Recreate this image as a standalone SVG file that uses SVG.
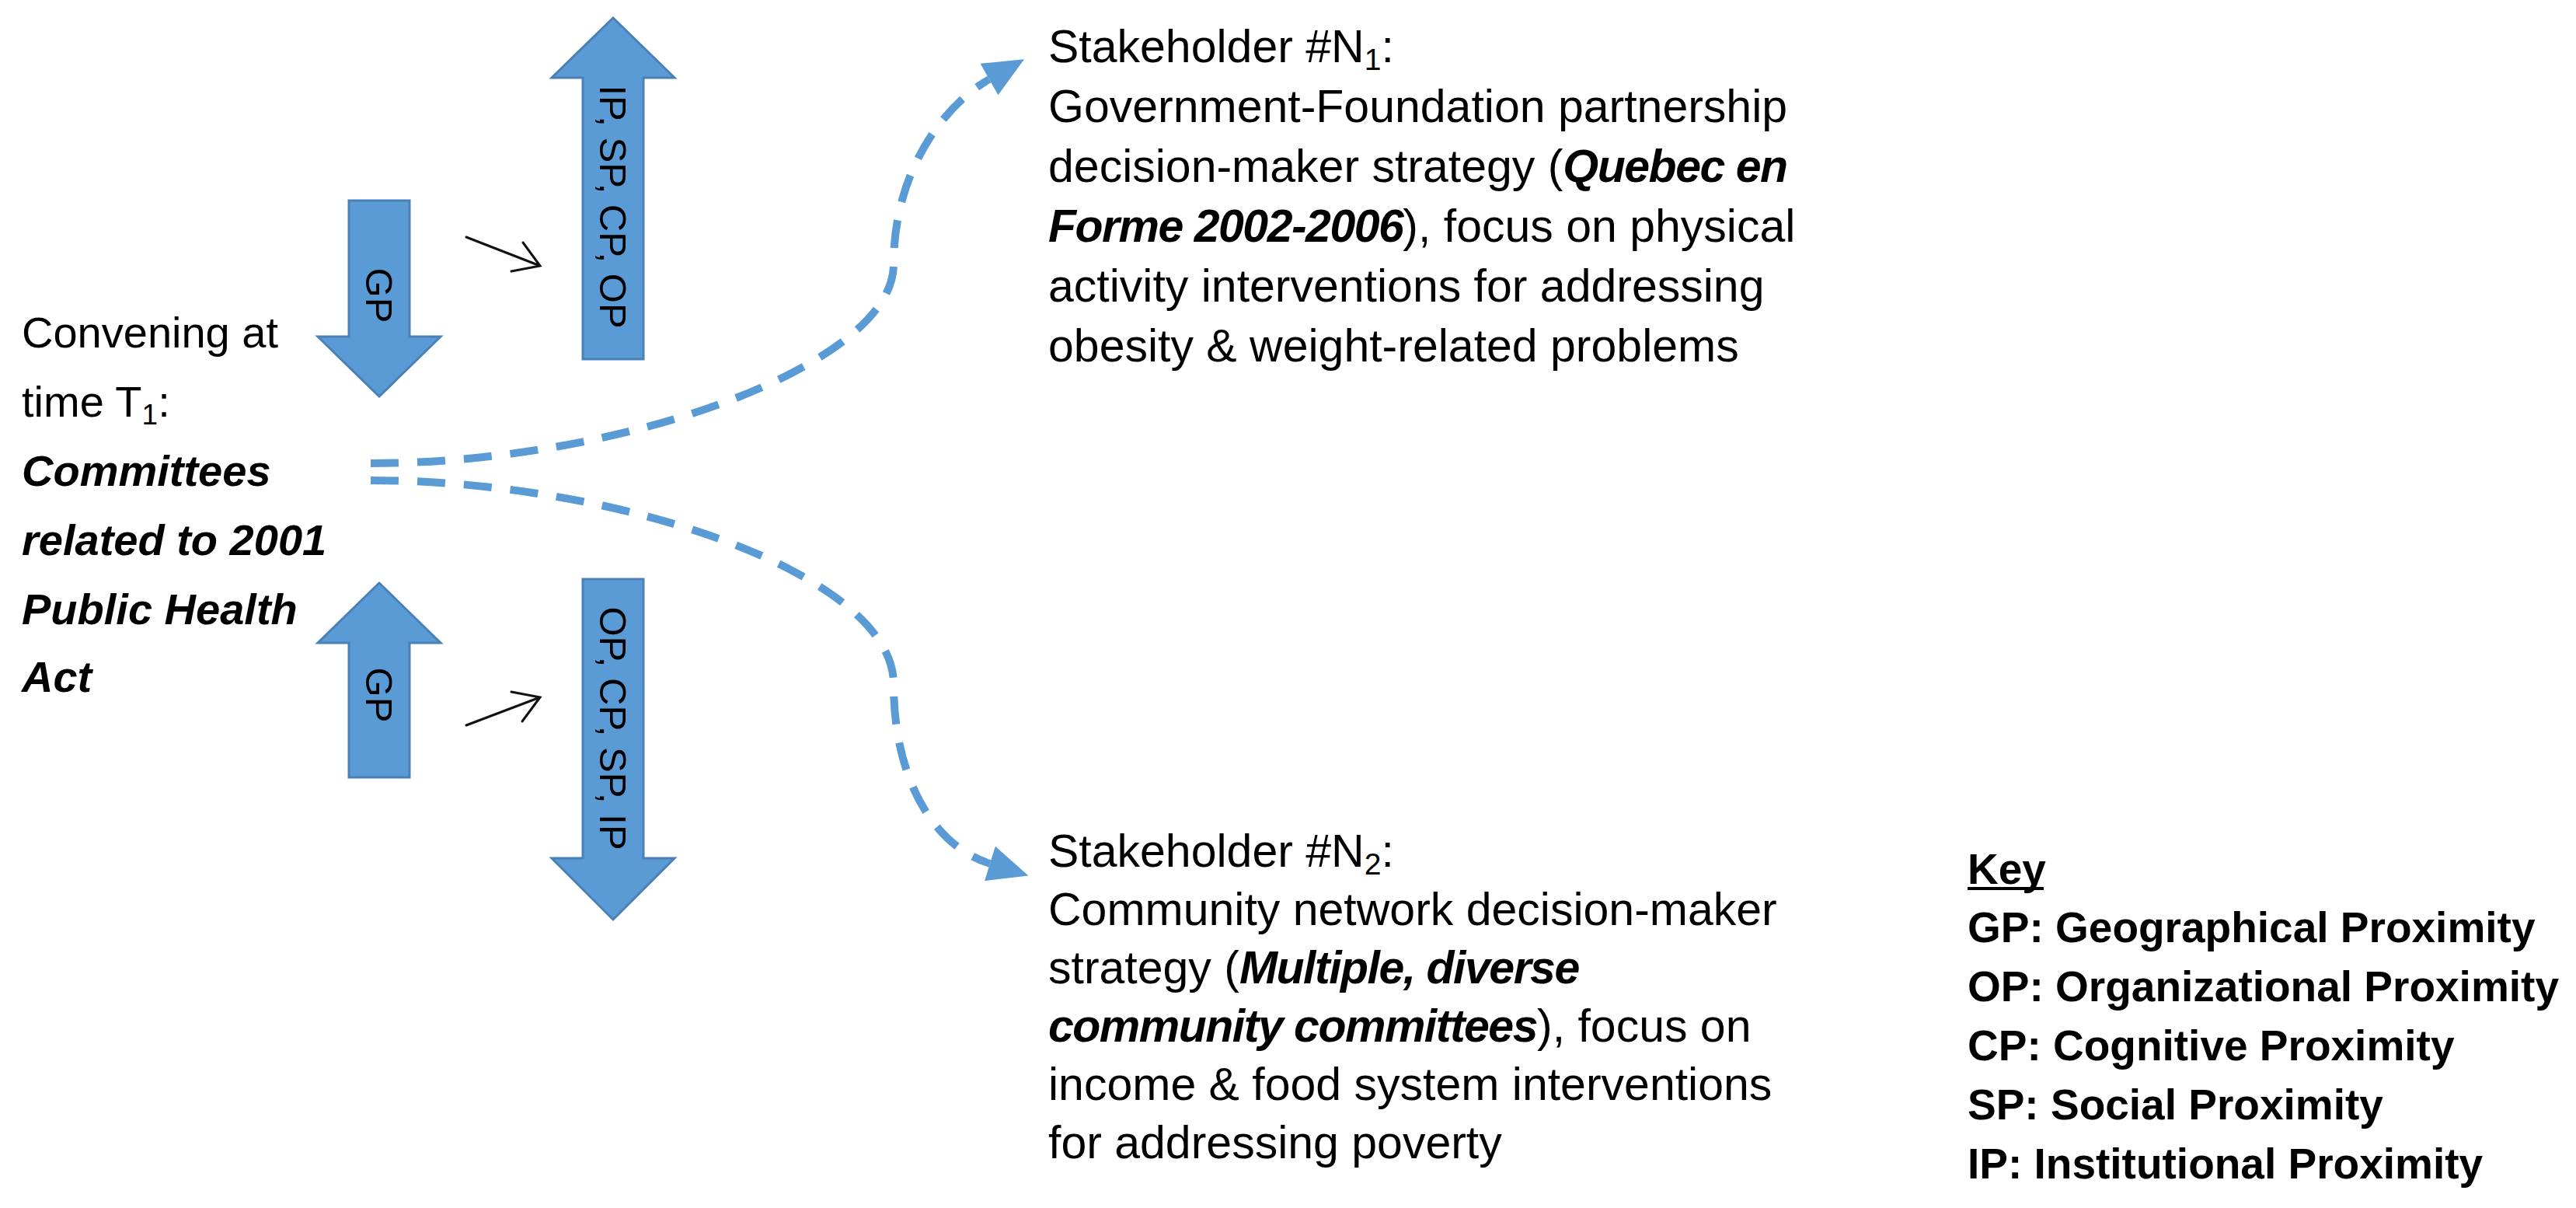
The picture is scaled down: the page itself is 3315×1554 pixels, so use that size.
<svg xmlns="http://www.w3.org/2000/svg" width="3315" height="1554" viewBox="0 0 3315 1554">
<defs>
<style>
.t{font-family:"Liberation Sans",Arial,sans-serif;fill:#000}
.l{font-size:56px}
.s{font-size:59px}
.k{font-size:55px;font-weight:bold}
.bi{font-weight:bold;font-style:italic}
.s .bi{letter-spacing:-1.5px}
.al{font-size:49px}
.barrow{fill:#5B9BD5;stroke:#4A80B8;stroke-width:3;stroke-linejoin:miter}
.dash{fill:none;stroke:#5B9BD5;stroke-width:10;stroke-dasharray:36 24}
.thin{fill:none;stroke:#111;stroke-width:3;stroke-linecap:round}
</style>
<marker id="tri" markerUnits="userSpaceOnUse" markerWidth="60" markerHeight="60" refX="0" refY="0" viewBox="-2 -20 44 40" orient="auto" overflow="visible">
<path d="M0,-17 L38,0 L0,17 z" fill="#5B9BD5"/>
</marker>
</defs>
<rect width="3315" height="1554" fill="#fff"/>

<g id="convening">
<text class="t l" x="28" y="447">Convening at</text>
<text class="t l" x="28" y="536">time T<tspan font-size="37" dy="10">1</tspan><tspan dy="-10">:</tspan></text>
<text class="t l bi" x="28" y="625">Committees</text>
<text class="t l bi" x="28" y="714">related to 2001</text>
<text class="t l bi" x="28" y="803">Public Health</text>
<text class="t l bi" x="28" y="890">Act</text>
</g>

<g id="gp-top">
<polygon class="barrow" points="449,258 527,258 527,433 567,433 488,510 409,433 449,433"/>
<text class="t al" text-anchor="middle" transform="translate(471,380) rotate(90)">GP</text>
</g>

<g id="proximity-up">
<polygon class="barrow" points="789,23 868,100 828,100 828,462 750,462 750,100 710,100"/>
<text class="t al" text-anchor="middle" transform="translate(772,266) rotate(90)">IP, SP, CP, OP</text>
</g>

<g id="gp-bottom">
<polygon class="barrow" points="488,750 567,827 527,827 527,1000 449,1000 449,827 409,827"/>
<text class="t al" text-anchor="middle" transform="translate(471,894) rotate(90)">GP</text>
</g>

<g id="proximity-down">
<polygon class="barrow" points="750,745 828,745 828,1104 868,1104 789,1183 710,1104 750,1104"/>
<text class="t al" text-anchor="middle" transform="translate(772,937) rotate(90)">OP, CP, SP, IP</text>
</g>

<g id="stakeholder-1">
<text class="t s" x="1349" y="80">Stakeholder #N<tspan font-size="39" dy="10">1</tspan><tspan dy="-10">:</tspan></text>
<text class="t s" x="1349" y="157">Government-Foundation partnership</text>
<text class="t s" x="1349" y="234">decision-maker strategy (<tspan class="bi">Quebec en</tspan></text>
<text class="t s" x="1349" y="311"><tspan class="bi">Forme 2002-2006</tspan>), focus on physical</text>
<text class="t s" x="1349" y="388">activity interventions for addressing</text>
<text class="t s" x="1349" y="465">obesity &amp; weight-related problems</text>
</g>

<g id="stakeholder-2">
<text class="t s" x="1349" y="1115">Stakeholder #N<tspan font-size="39" dy="10">2</tspan><tspan dy="-10">:</tspan></text>
<text class="t s" x="1349" y="1190">Community network decision-maker</text>
<text class="t s" x="1349" y="1265">strategy (<tspan class="bi">Multiple, diverse</tspan></text>
<text class="t s" x="1349" y="1340"><tspan class="bi">community committees</tspan>), focus on</text>
<text class="t s" x="1349" y="1415">income &amp; food system interventions</text>
<text class="t s" x="1349" y="1490">for addressing poverty</text>
</g>

<g id="key">
<text class="t k" x="2532" y="1137">Key</text>
<rect x="2532" y="1141" width="98" height="4" fill="#000"/>
<text class="t k" x="2532" y="1212">GP: Geographical Proximity</text>
<text class="t k" x="2532" y="1288">OP: Organizational Proximity</text>
<text class="t k" x="2532" y="1364">CP: Cognitive Proximity</text>
<text class="t k" x="2532" y="1440">SP: Social Proximity</text>
<text class="t k" x="2532" y="1516">IP: Institutional Proximity</text>
</g>

<g id="connectors">
<path class="dash" marker-end="url(#tri)" d="M477,596 C800,596 1150,470 1150,340 C1150,220 1215,135 1273,102"/>
<path class="dash" marker-end="url(#tri)" d="M477,618 C800,618 1150,740 1150,880 C1150,1000 1200,1088 1274,1111"/>
<path class="thin" d="M600,305 L695,342 M673,312 L695,342 L658,349"/>
<path class="thin" d="M600,933 L695,897 M658,890 L695,897 L672,928"/>
</g>
</svg>
